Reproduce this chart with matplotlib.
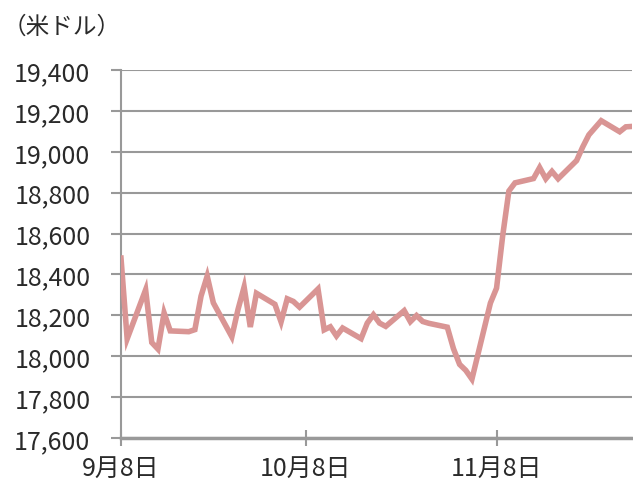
import matplotlib
matplotlib.use('Agg')
import matplotlib.pyplot as plt
import pandas as pd

plt.rcParams['font.family'] = ['Noto Sans CJK JP', 'DejaVu Sans']

# Daily close (USD)
dates = ['2016-09-08', '2016-09-09', '2016-09-12', '2016-09-13', '2016-09-14', '2016-09-15',
         '2016-09-16', '2016-09-19', '2016-09-20', '2016-09-21', '2016-09-22', '2016-09-23',
         '2016-09-26', '2016-09-27', '2016-09-28', '2016-09-29', '2016-09-30',
         '2016-10-03', '2016-10-04', '2016-10-05', '2016-10-06', '2016-10-07',
         '2016-10-10', '2016-10-11', '2016-10-12', '2016-10-13', '2016-10-14',
         '2016-10-17', '2016-10-18', '2016-10-19', '2016-10-20', '2016-10-21',
         '2016-10-24', '2016-10-25', '2016-10-26', '2016-10-27', '2016-10-28',
         '2016-10-31', '2016-11-01', '2016-11-02', '2016-11-03', '2016-11-04',
         '2016-11-07', '2016-11-08', '2016-11-09', '2016-11-10', '2016-11-11',
         '2016-11-14', '2016-11-15', '2016-11-16', '2016-11-17', '2016-11-18',
         '2016-11-21', '2016-11-22', '2016-11-23', '2016-11-25',
         '2016-11-28', '2016-11-29', '2016-11-30']
close = [18480, 18085, 18325, 18067, 18035, 18212,
         18124, 18120, 18130, 18294, 18392, 18261,
         18095, 18228, 18339, 18143, 18308,
         18254, 18168, 18281, 18268, 18240,
         18329, 18129, 18144, 18099, 18138,
         18086, 18162, 18203, 18162, 18146,
         18223, 18169, 18199, 18170, 18161,
         18142, 18037, 17960, 17931, 17888,
         18260, 18333, 18590, 18808, 18848,
         18869, 18923, 18868, 18904, 18868,
         18957, 19024, 19083, 19152,
         19098, 19122, 19124]

xtick_dates = ['2016-09-08', '2016-10-08', '2016-11-08']
xtick_labels = ['9月8日', '10月8日', '11月8日']
yticks = [17600, 17800, 18000, 18200, 18400, 18600, 18800, 19000, 19200, 19400]

d = pd.to_datetime(dates)

fig = plt.figure(figsize=(6.33, 4.85), dpi=100)
ax = fig.add_axes([121/633, 1 - 439/485, (632 - 121)/633, (439 - 71)/485])

grid_c = '#999999'
ax.set_yticks(yticks)
ax.set_yticklabels([f'{v:,}' for v in yticks])
ax.yaxis.grid(True, color=grid_c, lw=1.5)
ax.set_axisbelow(True)

ax.plot(d, close, color='#D99594', lw=4, solid_joinstyle='miter', zorder=3)

ax.set_ylim(17600, 19400)
ax.set_xlim(pd.Timestamp('2016-09-08'), pd.Timestamp('2016-11-30'))
ax.set_xticks(pd.to_datetime(xtick_dates))
ax.set_xticklabels(xtick_labels)

for s in ['top', 'right']:
    ax.spines[s].set_visible(False)
ax.spines['left'].set_color(grid_c)
ax.spines['left'].set_linewidth(1.5)
ax.spines['bottom'].set_color(grid_c)
ax.spines['bottom'].set_linewidth(2.5)

ax.tick_params(axis='y', direction='out', length=7, width=1.5, color=grid_c,
               labelsize=18, pad=15, labelcolor='#2a2a2a')
ax.tick_params(axis='x', direction='inout', length=12, width=1.5, color=grid_c,
               labelsize=18, pad=6, labelcolor='#2a2a2a')

fig.text(3/633, 1 - 27/485, '（米ドル）', fontsize=17, color='#2a2a2a', va='center', ha='left')

fig.savefig('out.png', dpi=100)
